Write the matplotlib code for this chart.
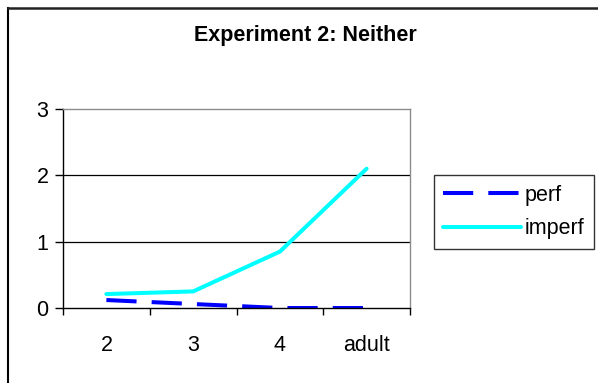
import matplotlib
matplotlib.use("Agg")
import matplotlib.pyplot as plt
from matplotlib.lines import Line2D

plt.rcParams['font.family'] = ['Liberation Sans', 'DejaVu Sans']

categories = ["2", "3", "4", "adult"]
perf = [0.12, 0.06, 0.0, 0.0]
imperf = [0.21, 0.25, 0.85, 2.1]
yticks = [0, 1, 2, 3]
title = "Experiment 2: Neither"

W, H = 598, 383
fig = plt.figure(figsize=(W / 100, H / 100), dpi=100)
fig.patch.set_facecolor("white")

# outer chart frame (only left and top edges visible)
fig.add_artist(Line2D([8 / W, 8 / W], [0, 1 - 7.5 / H], transform=fig.transFigure,
                      color="black", lw=1.5))
fig.add_artist(Line2D([8 / W, 1], [1 - 7.5 / H, 1 - 7.5 / H], transform=fig.transFigure,
                      color="#222222", lw=1.8))

ax = fig.add_axes([63 / W, 1 - 308 / H, (410 - 63) / W, (308 - 109) / H])
x = list(range(len(categories)))

ax.plot(x, perf, color="#0000ff", lw=2.9, dashes=(7.5, 3.75), label="perf",
        solid_capstyle="butt", dash_capstyle="butt")
ax.plot(x, imperf, color="#00ffff", lw=2.9, label="imperf", solid_capstyle="round")

ax.set_xlim(-0.5, len(categories) - 0.5)
ax.set_ylim(0, 3)
ax.set_yticks(yticks)
ax.set_yticklabels([str(v) for v in yticks])
ax.set_xticks(x)
ax.set_xticklabels(categories)
ax.set_xticks([i - 0.5 for i in range(len(categories) + 1)], minor=True)

ax.tick_params(axis="x", which="major", length=0, pad=19.5, labelsize=15.5)
ax.tick_params(axis="x", which="minor", length=5, width=1, color="black", direction="out")
ax.tick_params(axis="y", which="major", length=5.5, width=1, pad=5, labelsize=15.5,
               direction="out")

for v in yticks[1:-1]:
    ax.axhline(v, color="black", lw=0.9, zorder=1)

ax.spines["left"].set_color("black")
ax.spines["bottom"].set_color("black")
ax.spines["top"].set_color("#8c8c8c")
ax.spines["right"].set_color("#8c8c8c")
for s in ax.spines.values():
    s.set_linewidth(1.0)

fig.text(305 / W, 1 - 36 / H, title, ha="center", va="center", fontsize=15.5,
         fontweight="bold")

leg = fig.legend(loc="center", bbox_to_anchor=(514 / W, 1 - 212 / H), fontsize=15.5,
                 frameon=True, fancybox=False, edgecolor="black", handlelength=3.6,
                 handletextpad=0.2, labelspacing=0.6, borderpad=0.45, borderaxespad=0)
leg.get_frame().set_linewidth(1.0)

fig.savefig("out.png", dpi=100, facecolor="white")
